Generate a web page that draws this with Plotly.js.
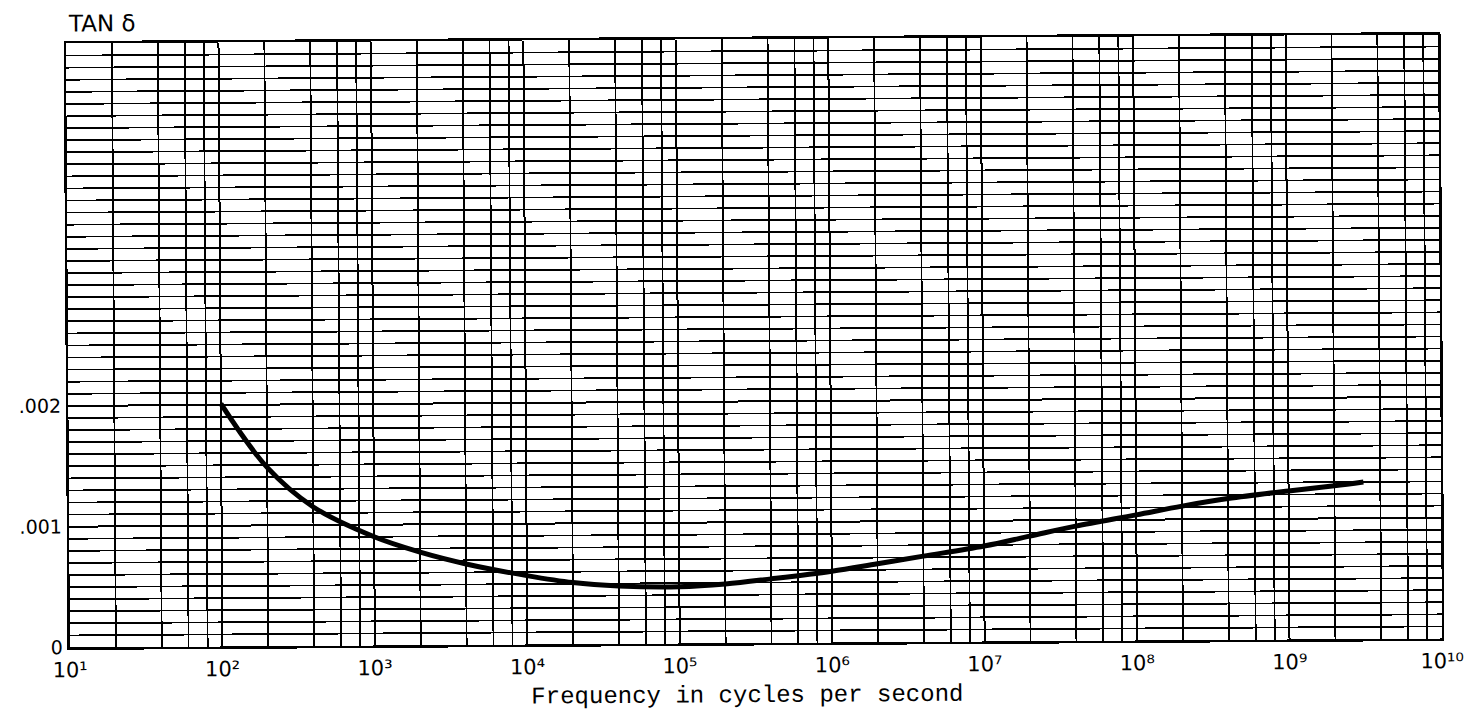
<!DOCTYPE html>
<html>
<head>
<meta charset="utf-8">
<script src="https://cdn.plot.ly/plotly-3.0.1.min.js"></script>
<style>
  html, body { margin: 0; padding: 0; background: #ffffff; overflow: hidden; }
  #chart { width: 1474px; height: 713px; transform: rotate(-0.376deg); transform-origin: 754px 341px; }
</style>
</head>
<body>
<div id="chart"></div>
<script>
// Frequency (cycles per second) and loss tangent
const frequency = [1e2, 2e2, 4e2, 1e3, 2e3, 4e3, 1e4, 2e4, 4e4, 1e5, 2e5, 4e5, 1e6, 2e6, 4e6, 1e7, 2e7, 4e7, 1e8, 2e8, 4e8, 1e9, 2e9, 3.1e9];
const tanDelta  = [0.00201, 0.00148, 0.00115, 0.00090, 0.00077, 0.00067, 0.00057, 0.00051, 0.00048, 0.00047, 0.00049, 0.00053, 0.00059, 0.00065, 0.00071, 0.00079, 0.00087, 0.00095, 0.00104, 0.00111, 0.00117, 0.00123, 0.00127, 0.00130];

// Axis labelling
const decadeValues = [1e1, 1e2, 1e3, 1e4, 1e5, 1e6, 1e7, 1e8, 1e9, 1e10];
const decadeLabels = ['10¹', '10²', '10³', '10⁴', '10⁵', '10⁶', '10⁷', '10⁸', '10⁹', '10¹⁰'];
const minorMultipliers = [2, 4, 6, 8];
const yTickValues = [0, 0.001, 0.002];
const yTickLabels = ['0', '.001', '.002'];
const yRange = [0, 0.005];
const yGridStep = 0.0001;
const xTitle = 'Frequency in cycles per second';
const yTitle = 'TAN δ';

// 2-4-6-8 grid positions inside each decade (unlabelled minor grid)
const xMinorVals = [];
decadeValues.slice(0, -1).forEach(d => {
  minorMultipliers.forEach(m => xMinorVals.push(m * d));
});

const trace = {
  x: frequency,
  y: tanDelta,
  type: 'scatter',
  mode: 'lines',
  line: { color: '#000000', width: 5, shape: 'spline', smoothing: 1 },
  hoverinfo: 'x+y'
};

const gridColor = '#000000';

const layout = {
  width: 1474,
  height: 713,
  margin: { l: 68, r: 34, t: 38.5, b: 69.5 },
  paper_bgcolor: '#ffffff',
  plot_bgcolor: '#ffffff',
  showlegend: false,
  font: { family: '"DejaVu Sans", Lato, sans-serif', color: '#000000', size: 20 },
  xaxis: {
    type: 'log',
    range: [1, 10],
    tickmode: 'array',
    tickvals: decadeValues,
    ticktext: decadeLabels,
    ticks: '',
    showgrid: true,
    gridcolor: gridColor,
    gridwidth: 2,
    minor: { tickmode: 'array', tickvals: xMinorVals, showgrid: true, gridcolor: gridColor, gridwidth: 1.8, ticks: '' },
    showline: true,
    linecolor: '#000000',
    linewidth: 2.5,
    mirror: true,
    zeroline: false,
    tickfont: { family: '"DejaVu Sans", Lato, sans-serif', size: 21, color: '#000000' },
    ticklabelstandoff: 2
  },
  yaxis: {
    range: yRange,
    tickmode: 'array',
    tickvals: yTickValues,
    ticktext: yTickLabels,
    ticks: '',
    showgrid: true,
    gridcolor: gridColor,
    gridwidth: 2,
    minor: { tickmode: 'linear', tick0: 0, dtick: yGridStep, showgrid: true, gridcolor: gridColor, gridwidth: 1.7, ticks: '' },
    showline: true,
    linecolor: '#000000',
    linewidth: 2.5,
    mirror: true,
    zeroline: false,
    tickfont: { family: '"DejaVu Sans", Lato, sans-serif', size: 19, color: '#000000' },
    ticklabelstandoff: 1
  },
  annotations: [
    {
      text: yTitle,
      xref: 'paper', yref: 'paper',
      x: 0.0, y: 1.0,
      xanchor: 'left', yanchor: 'bottom',
      yshift: 5,
      showarrow: false,
      font: { family: '"DejaVu Sans", Lato, sans-serif', size: 23, color: '#000000' }
    },
    {
      text: xTitle,
      xref: 'paper', yref: 'paper',
      x: (745 - 68) / (1474 - 68 - 34), y: 0,
      xanchor: 'center', yanchor: 'top',
      yshift: -37,
      showarrow: false,
      font: { family: '"Liberation Mono", "Courier New", monospace', size: 24, color: '#000000' }
    }
  ]
};

Plotly.newPlot('chart', [trace], layout, { displayModeBar: false, staticPlot: true });
</script>
</body>
</html>
